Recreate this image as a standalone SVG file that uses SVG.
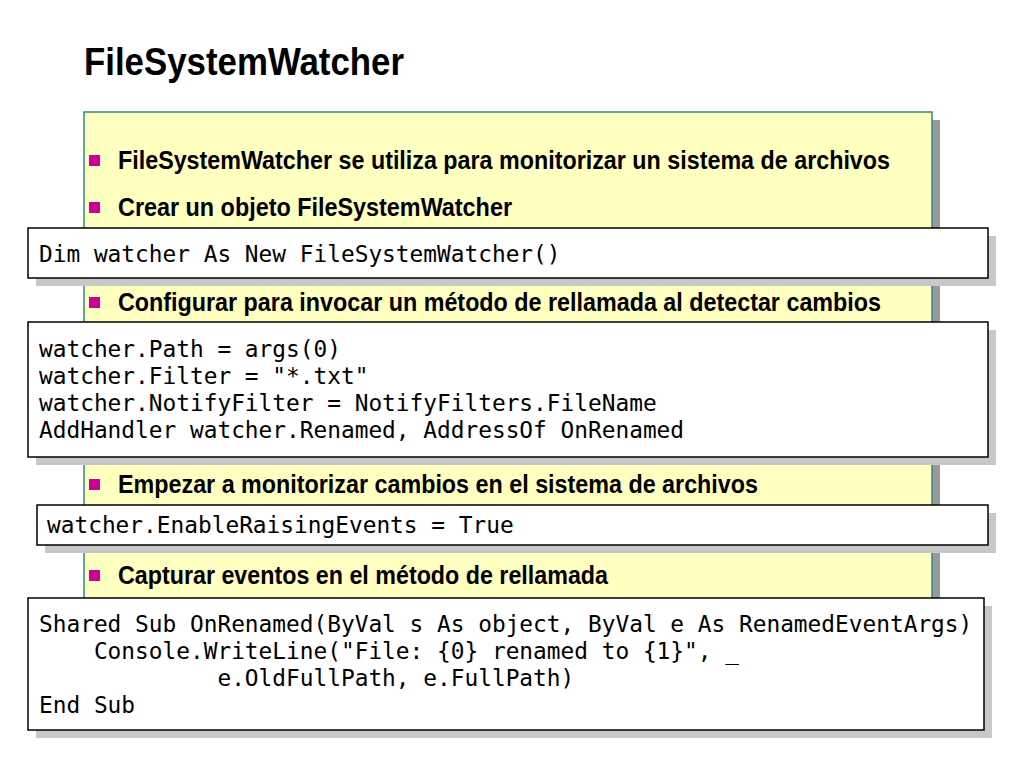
<svg xmlns="http://www.w3.org/2000/svg" width="1024" height="768" viewBox="0 0 1024 768">
<style>
.b{font-family:"Liberation Sans Narrow","Liberation Sans",Arial,sans-serif;font-weight:bold;font-size:26px;fill:#000}
.c{font-family:"DejaVu Sans Mono",monospace;font-size:22.8px;fill:#000;white-space:pre}
.box{fill:#fff;stroke:#000;stroke-width:1.5}
.sh{fill:#c8c8c8}
.bul{fill:#cc0099}
</style>
<rect width="1024" height="768" fill="#fff"/>
<text x="84" y="75" font-family="'Liberation Sans Narrow','Liberation Sans',sans-serif" font-weight="bold" font-size="39" textLength="320" lengthAdjust="spacingAndGlyphs">FileSystemWatcher</text>
<g id="panel">
<rect x="92" y="120" width="848" height="610" fill="#999"/>
<rect x="84" y="112" width="848" height="610" fill="#ffffc0" stroke="#2a8a8a" stroke-width="1.5"/>
</g>
<g id="bullets">
<rect class="bul" x="89" y="155" width="11" height="11"/><text class="b" x="118" y="169" textLength="772" lengthAdjust="spacingAndGlyphs">FileSystemWatcher se utiliza para monitorizar un sistema de archivos</text>
<rect class="bul" x="89" y="202" width="11" height="11"/><text class="b" x="118" y="216" textLength="394" lengthAdjust="spacingAndGlyphs">Crear un objeto FileSystemWatcher</text>
<rect class="bul" x="89" y="297" width="11" height="11"/><text class="b" x="118" y="311" textLength="763" lengthAdjust="spacingAndGlyphs">Configurar para invocar un método de rellamada al detectar cambios</text>
<rect class="bul" x="89" y="479" width="11" height="11"/><text class="b" x="118" y="493" textLength="640" lengthAdjust="spacingAndGlyphs">Empezar a monitorizar cambios en el sistema de archivos</text>
<rect class="bul" x="89" y="570" width="11" height="11"/><text class="b" x="118" y="584" textLength="490" lengthAdjust="spacingAndGlyphs">Capturar eventos en el método de rellamada</text>
</g>
<g id="code1">
<rect class="sh" x="36" y="236" width="960" height="50"/>
<rect class="box" x="28" y="228" width="960" height="50"/>
<text class="c" x="39" y="262">Dim watcher As New FileSystemWatcher()</text>
</g>
<g id="code2">
<rect class="sh" x="36" y="330" width="960" height="135"/>
<rect class="box" x="28" y="322" width="960" height="135"/>
<text class="c" x="39" y="357">watcher.Path = args(0)</text>
<text class="c" x="39" y="384">watcher.Filter = "*.txt"</text>
<text class="c" x="39" y="411">watcher.NotifyFilter = NotifyFilters.FileName</text>
<text class="c" x="39" y="438">AddHandler watcher.Renamed, AddressOf OnRenamed</text>
</g>
<g id="code3">
<rect class="sh" x="45" y="513" width="951" height="40"/>
<rect class="box" x="37" y="505" width="951" height="40"/>
<text class="c" x="47" y="533">watcher.EnableRaisingEvents = True</text>
</g>
<g id="code4">
<rect class="sh" x="36" y="606" width="956" height="132"/>
<rect class="box" x="28" y="598" width="956" height="132"/>
<text class="c" x="39" y="632">Shared Sub OnRenamed(ByVal s As object, ByVal e As RenamedEventArgs)</text>
<text class="c" x="39" y="659">    Console.WriteLine("File: {0} renamed to {1}", _</text>
<text class="c" x="39" y="686">             e.OldFullPath, e.FullPath)</text>
<text class="c" x="39" y="713">End Sub</text>
</g>
</svg>
